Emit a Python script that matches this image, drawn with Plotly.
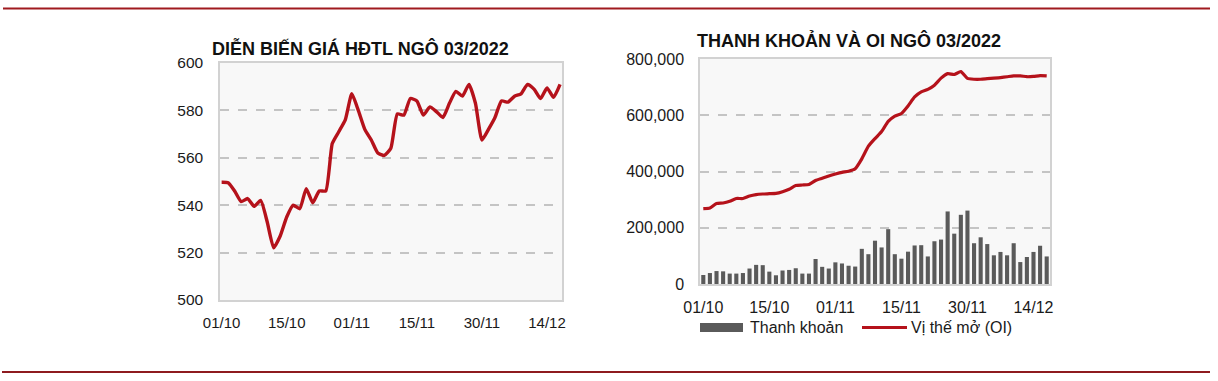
import plotly.graph_objects as go

W, H = 1218, 381

# ---------------- data ----------------
idx = list(range(53))
tick_idx = [0, 10, 20, 30, 40, 50]
tick_labels = ["01/10", "15/10", "01/11", "15/11", "30/11", "14/12"]

price = [549.7, 549.5, 546.0, 541.5, 542.8, 539.5, 542.0, 533.0, 522.0, 527.0,
         535.0, 540.0, 538.5, 547.0, 541.0, 546.0, 546.0, 566.0, 571.0, 576.0,
         587.0, 580.0, 572.0, 567.5, 562.0, 561.0, 564.0, 578.5, 578.0, 585.0,
         584.0, 578.0, 581.5, 579.5, 577.0, 583.0, 588.0, 586.0, 591.0, 583.0,
         567.5, 572.0, 577.0, 584.0, 583.5, 586.0, 587.0, 591.0, 589.0, 585.0,
         589.5, 585.5, 591.0]

volume = [32000, 39000, 46000, 45000, 37000, 37000, 39000, 55000, 68000, 67000,
          44000, 31000, 48000, 50000, 56000, 37000, 37000, 89000, 61000, 55000,
          77000, 73000, 65000, 62000, 125000, 106000, 154000, 130000, 195000, 106000,
          90000, 115000, 137000, 138000, 98000, 152000, 158000, 258000, 179000, 246000,
          261000, 145000, 166000, 142000, 102000, 114000, 102000, 145000, 78000, 96000,
          114000, 136000, 98000]

oi = [268000, 270000, 286000, 288000, 294000, 304000, 304000, 313000, 318000, 320000,
      321000, 322000, 328000, 337000, 350000, 352000, 354000, 368000, 376000, 384000,
      391000, 397000, 401000, 410000, 445000, 490000, 517000, 542000, 578000, 597000,
      606000, 633000, 665000, 683000, 692000, 707000, 732000, 748000, 745000, 755000,
      731000, 728000, 728000, 730000, 732000, 734000, 737000, 740000, 740000, 737000,
      738000, 741000, 740000]

price_ticks = [500, 520, 540, 560, 580, 600]
oi_ticks = [0, 200000, 400000, 600000, 800000]
oi_tick_text = ["0", "200,000", "400,000", "600,000", "800,000"]

title_left = "DIỄN BIẾN GIÁ HĐTL NGÔ 03/2022"
title_right = "THANH KHOẢN VÀ OI NGÔ 03/2022"
legend_bar = "Thanh khoản"
legend_line = "Vị thế mở (OI)"

# ---------------- styles ----------------
RED = "#B5121B"
GRAY_BAR = "#5A5A5A"
GRID = "#C4C4C4"
BORDER = "#D2D2D2"
FONT = "Liberation Sans, Arial, sans-serif"


def px_x(x):
    return x / W


def px_y(y):
    return (H - y) / H


fig = go.Figure()

fig.add_trace(go.Scatter(
    x=idx, y=price, mode="lines", xaxis="x", yaxis="y",
    line=dict(color=RED, width=3.4, shape="spline", smoothing=0.5),
    showlegend=False, hoverinfo="skip"))

fig.add_trace(go.Bar(
    x=idx, y=volume, xaxis="x2", yaxis="y2", marker=dict(color=GRAY_BAR, line=dict(width=0)),
    showlegend=False, hoverinfo="skip"))

fig.add_trace(go.Scatter(
    x=idx, y=oi, mode="lines", xaxis="x2", yaxis="y2",
    line=dict(color=RED, width=3.2, shape="spline", smoothing=0.5),
    showlegend=False, hoverinfo="skip"))

axis_common = dict(showline=True, linecolor=BORDER, linewidth=1.5, mirror=True,
                   zeroline=False, fixedrange=True, automargin=False)

fig.update_layout(
    width=W, height=H,
    autosize=False,
    showlegend=False,
    margin=dict(l=0, r=0, t=0, b=0, pad=0, autoexpand=False),
    paper_bgcolor="white",
    plot_bgcolor="#F8F8F8",
    font=dict(family=FONT, color="#1a1a1a"),
    bargap=0.38,
    xaxis=dict(domain=[px_x(220), px_x(562)], anchor="y", range=[-0.25, 52.3],
               tickmode="array", tickvals=tick_idx, ticktext=tick_labels,
               showgrid=False, ticks="outside", ticklen=8, tickcolor="rgba(0,0,0,0)",
               tickfont=dict(size=15, family=FONT, color="#1a1a1a"), **axis_common),
    yaxis=dict(domain=[px_y(300), px_y(63)], anchor="x", range=[500, 600],
               tickmode="array", tickvals=price_ticks,
               showgrid=True, gridcolor=GRID, gridwidth=1.5, griddash="dash",
               ticks="outside", ticklen=12, tickcolor="rgba(0,0,0,0)",
               tickfont=dict(size=15.5, family=FONT, color="#1a1a1a"), **axis_common),
    xaxis2=dict(domain=[px_x(700), px_x(1050)], anchor="y2", range=[-0.5, 52.5],
                tickmode="array", tickvals=tick_idx, ticktext=tick_labels,
                showgrid=False, ticks="outside", ticklen=8, tickcolor="rgba(0,0,0,0)",
                tickfont=dict(size=16, family=FONT, color="#1a1a1a"), **axis_common),
    yaxis2=dict(domain=[px_y(284), px_y(59)], anchor="x2", range=[0, 800000],
                tickmode="array", tickvals=oi_ticks, ticktext=oi_tick_text,
                showgrid=True, gridcolor=GRID, gridwidth=1.5, griddash="dash",
                ticks="outside", ticklen=11, tickcolor="rgba(0,0,0,0)",
                tickfont=dict(size=16, family=FONT, color="#1a1a1a"), **axis_common),
)

shapes = [
    # top and bottom red rules
    dict(type="line", xref="paper", yref="paper", x0=px_x(3), x1=px_x(1210),
         y0=px_y(8.5), y1=px_y(8.5), line=dict(color="#A01A1F", width=2)),
    dict(type="line", xref="paper", yref="paper", x0=px_x(2), x1=px_x(1210),
         y0=px_y(372), y1=px_y(372), line=dict(color="#8E1B1F", width=2)),
    # legend swatches
    dict(type="rect", xref="paper", yref="paper", x0=px_x(700), x1=px_x(743),
         y0=px_y(332), y1=px_y(323), fillcolor=GRAY_BAR, line=dict(width=0)),
    dict(type="line", xref="paper", yref="paper", x0=px_x(862), x1=px_x(907),
         y0=px_y(327.5), y1=px_y(327.5), line=dict(color=RED, width=3)),
]

annotations = [
    dict(text="<b>" + title_left + "</b>", xref="paper", yref="paper",
         x=px_x(210), y=px_y(48.5), xanchor="left", yanchor="middle", showarrow=False,
         font=dict(size=18, family=FONT, color="#111111")),
    dict(text="<b>" + title_right + "</b>", xref="paper", yref="paper",
         x=px_x(695), y=px_y(41), xanchor="left", yanchor="middle", showarrow=False,
         font=dict(size=18, family=FONT, color="#111111")),
    dict(text=legend_bar, xref="paper", yref="paper",
         x=px_x(748), y=px_y(327.5), xanchor="left", yanchor="middle", showarrow=False,
         font=dict(size=16, family=FONT, color="#1a1a1a")),
    dict(text=legend_line, xref="paper", yref="paper",
         x=px_x(909), y=px_y(327.5), xanchor="left", yanchor="middle", showarrow=False,
         font=dict(size=16, family=FONT, color="#1a1a1a")),
]

fig.update_layout(shapes=shapes, annotations=annotations)

fig.write_html("out.html", config={"displayModeBar": False},
               post_script="document.body.style.margin='0px';document.body.style.overflow='hidden';")
